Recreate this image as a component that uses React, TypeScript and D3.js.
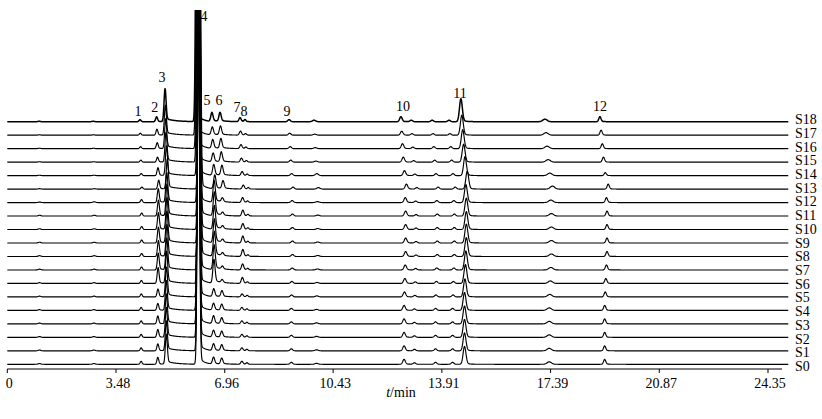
import React, { useMemo } from "react";
import * as d3 from "d3";

const W = 822;
const H = 419;

// Sample names (bottom to top)
const sampleNames = ["S0","S1","S2","S3","S4","S5","S6","S7","S8","S9","S10","S11","S12","S13","S14","S15","S16","S17","S18"];

// x axis tick labels (min)
const axisTicks = [0, 3.48, 6.96, 10.43, 13.91, 17.39, 20.87, 24.35];

// Peak table: retention time (min), sigma (min), tail amplitude fraction, tail decay (min)
const peakTimes   = [1.02, 2.75, 4.25, 4.78, 5.05, 6.07, 6.55, 6.81, 7.45, 7.61, 9.02, 9.82, 12.60, 12.93, 13.60, 14.14, 14.52, 17.21, 18.97];
const peakSigma   = [0.04, 0.04, 0.03, 0.03, 0.032, 0.033, 0.035, 0.035, 0.035, 0.03, 0.04, 0.05, 0.04, 0.04, 0.04, 0.04, 0.045, 0.07, 0.035];
const peakTailAmp = [0, 0, 0, 0.1, 0.1, 0.02, 0.15, 0.12, 0.1, 0, 0, 0, 0.1, 0, 0, 0, 0.08, 0, 0.1];
const peakTailTau = [0.1, 0.1, 0.1, 0.15, 0.3, 0.15, 0.2, 0.2, 0.15, 0.1, 0.1, 0.1, 0.12, 0.1, 0.1, 0.1, 0.12, 0.1, 0.1];

// Peak heights per sample (S0..S18), one array per peak
const hNoiseA = [0.8, 0.8, 0.8, 0.8, 0.8, 0.8, 0.8, 0.8, 0.8, 0.8, 0.8, 0.8, 0.5, 0.4, 0.4, 0.4, 0.4, 0.4, 0.4];
const hNoiseB = [0.8, 0.8, 0.8, 0.8, 0.8, 0.8, 0.8, 0.8, 0.8, 0.8, 0.8, 0.8, 0.8, 0.4, 0.4, 0.4, 0.4, 0.4, 0.4];
const hPeak1  = [3, 3, 3, 3, 3, 3, 3, 3, 3, 3, 3, 3, 3, 2, 2, 2, 2, 2, 2];
const hPeak2  = [7, 7, 8, 8, 7, 8, 16, 17, 16, 16, 17, 16, 14, 9, 8, 5, 6, 6, 5];
const hPeak3  = [30, 30, 30, 30, 30, 30, 32, 32, 32, 32, 32, 32, 30, 30, 30, 30, 30, 30, 33];
const hPeak4  = [400, 400, 400, 400, 400, 400, 400, 400, 400, 400, 400, 400, 400, 400, 400, 400, 400, 400, 400];
const hPeak5  = [7, 7, 7, 8, 7, 8, 24, 25, 25, 24, 24, 24, 22, 14, 11, 9, 9, 8, 9];
const hPeak6  = [6, 6, 6, 6, 6, 6, 3, 3, 3, 3, 3, 3, 4, 8, 10, 10, 10, 9, 9];
const hPeak7  = [3, 3, 3, 3, 3, 3, 6, 6, 7, 7, 6, 6, 5, 4, 4, 4, 4, 4, 4];
const hPeak8  = [1.5, 1.5, 1.5, 1.5, 1.5, 1.5, 1.5, 1.5, 1.5, 1.5, 1.5, 1.5, 1.5, 1.5, 1.5, 1.5, 1.5, 1.5, 2];
const hPeak9  = [2, 2, 2, 2, 2, 2, 2, 2, 2, 2, 2, 2, 2, 2, 2, 2, 2, 2, 2];
const hMinorA = [1, 1, 1, 1, 1, 1, 1, 1, 1, 1, 1, 1, 1, 1.5, 2, 1, 1, 1, 1.5];
const hPeak10 = [5, 5, 5, 5, 5, 5, 5, 5, 5, 5, 5, 5, 5, 5, 5, 5, 5, 4, 5];
const hMinorB = [1.5, 1.5, 1.5, 1.5, 1.5, 1.5, 1.5, 1.5, 1.5, 1.5, 1.5, 1.5, 1.5, 1.5, 1.5, 1.5, 1.5, 1.5, 1.5];
const hMinorC = [2, 2, 2, 2, 2, 2, 2, 2, 2, 2, 2, 2, 2, 2, 2, 2, 2, 1.5, 1.5];
const hMinorD = [2, 2, 2, 2, 2, 2, 2, 2, 2, 2, 2, 2, 2, 2, 2, 2, 2, 1.5, 1.5];
const hPeak11 = [18, 18, 18, 18, 18, 18, 19, 19, 19, 19, 18, 18, 18, 18, 19, 18, 19, 20, 23];
const hMinorE = [2.5, 2.5, 2.5, 2.5, 2.5, 2.5, 2.5, 2.5, 2.5, 2.5, 2.5, 2.5, 2.5, 3, 2.5, 2.5, 2.5, 2.5, 2.5];
const hPeak12 = [5, 5, 5, 5, 5, 5, 5, 5, 5, 5, 5, 5, 5, 5, 3, 5, 5, 5, 5];

const peakHeights = [hNoiseA, hNoiseB, hPeak1, hPeak2, hPeak3, hPeak4, hPeak5, hPeak6, hPeak7, hPeak8, hPeak9, hMinorA, hPeak10, hMinorB, hMinorC, hMinorD, hPeak11, hMinorE, hPeak12];

// Retention-time drift factor per sample (S0..S18)
const retentionDrift = [0.008, 0.008, 0.008, 0.008, 0.008, 0.009, 0.01, 0.011, 0.012, 0.012, 0.012, 0.012, 0.011, 0.014, 0.009, 0.006, 0.004, 0.002, 0];

// Peak annotations
const peakLabels = ["1", "2", "3", "4", "5", "6", "7", "8", "9", "10", "11", "12"];
const peakLabelTimes = [4.25, 4.78, 5.05, 6.07, 6.55, 6.81, 7.45, 7.61, 9.02, 12.60, 14.52, 18.97];
const peakLabelLift = [6, 10, 40, 101, 17, 17, 10, 6, 6, 11, 24, 11];
const peakLabelDx = [-2, -2, -3, 7, -5, -1, -3, -1, -2, 2, -1, 0];

const runTime = 25;
const axisEnd = 24.8;

const FONT = "Liberation Serif, Times New Roman, Times, serif";

function peakShape(t: number, t0: number, h: number, s: number, a: number, tau: number) {
  const z = (t - t0) / s;
  if (t <= t0) return h * Math.exp(-0.5 * z * z);
  return h * ((1 - a) * Math.exp(-0.5 * z * z) + a * Math.exp(-(t - t0) / tau));
}

export default function App() {
  const x = d3.scaleLinear().domain([0, runTime]).range([7.3, 788.3]);
  const baseline = d3.scaleLinear().domain([0, 18]).range([364.3, 121.7]);
  const labelY = d3.scaleLinear().domain([0, 18]).range([366.3, 119.5]);
  const intensity = d3.scaleLinear().domain([0, 100]).range([0, 100]);

  const paths = useMemo(() => {
    const grid = d3.range(0, runTime + 0.0001, 0.01);
    return sampleNames.map((_, k) => {
      const pts: [number, number][] = grid.map((t) => {
        let v = 0;
        for (let p = 0; p < peakTimes.length; p++) {
          const t0 = peakTimes[p] * (1 + retentionDrift[k]);
          if (Math.abs(t - t0) > 3) continue;
          v += peakShape(t, t0, peakHeights[p][k], peakSigma[p], peakTailAmp[p], peakTailTau[p]);
        }
        return [t, v];
      });
      const line = d3
        .line<[number, number]>()
        .x((d) => x(d[0]))
        .y((d) => baseline(k) - intensity(d[1]));
      return line(pts) as string;
    });
  }, []);

  const axisY = 369;
  const textStyle = { fontFamily: FONT, fontSize: "14px" };

  return (
    <svg width={W} height={H} style={{ display: "block", position: "absolute", left: 0, top: 0, background: "#fff" }}>
      <defs>
        <clipPath id="plotClip">
          <rect x={0} y={10} width={W} height={H - 10} />
        </clipPath>
      </defs>
      <rect x={0} y={0} width={W} height={H} fill="#fff" />
      <g clipPath="url(#plotClip)">
        {paths.map((d, k) => (
          <path key={k} d={d} fill="none" stroke="#000" strokeWidth={k === 18 ? 1.5 : 1.15} strokeLinejoin="round" />
        ))}
      </g>
      {sampleNames.map((n, k) => (
        <text key={n} x={795} y={labelY(k) + 4.7} style={textStyle} fill="#000">
          {n}
        </text>
      ))}
      {peakLabels.map((l, i) => (
        <text
          key={l}
          x={x(peakLabelTimes[i]) + peakLabelDx[i]}
          y={baseline(18) - peakLabelLift[i]}
          style={textStyle}
          textAnchor="middle"
          fill="#000"
        >
          {l}
        </text>
      ))}
      <line x1={x(0)} x2={x(axisEnd)} y1={axisY} y2={axisY} stroke="#000" strokeWidth={1} />
      {axisTicks.map((t) => (
        <g key={t}>
          <line x1={x(t)} x2={x(t)} y1={axisY} y2={axisY + 4} stroke="#000" strokeWidth={1} />
          <text x={x(t) + 2} y={388} style={textStyle} textAnchor="middle" fill="#000">
            {t === 0 ? "0" : t.toFixed(2)}
          </text>
        </g>
      ))}
      <text x={401} y={397} style={textStyle} textAnchor="middle" fill="#000">
        <tspan fontStyle="italic">t</tspan>/min
      </text>
    </svg>
  );
}
